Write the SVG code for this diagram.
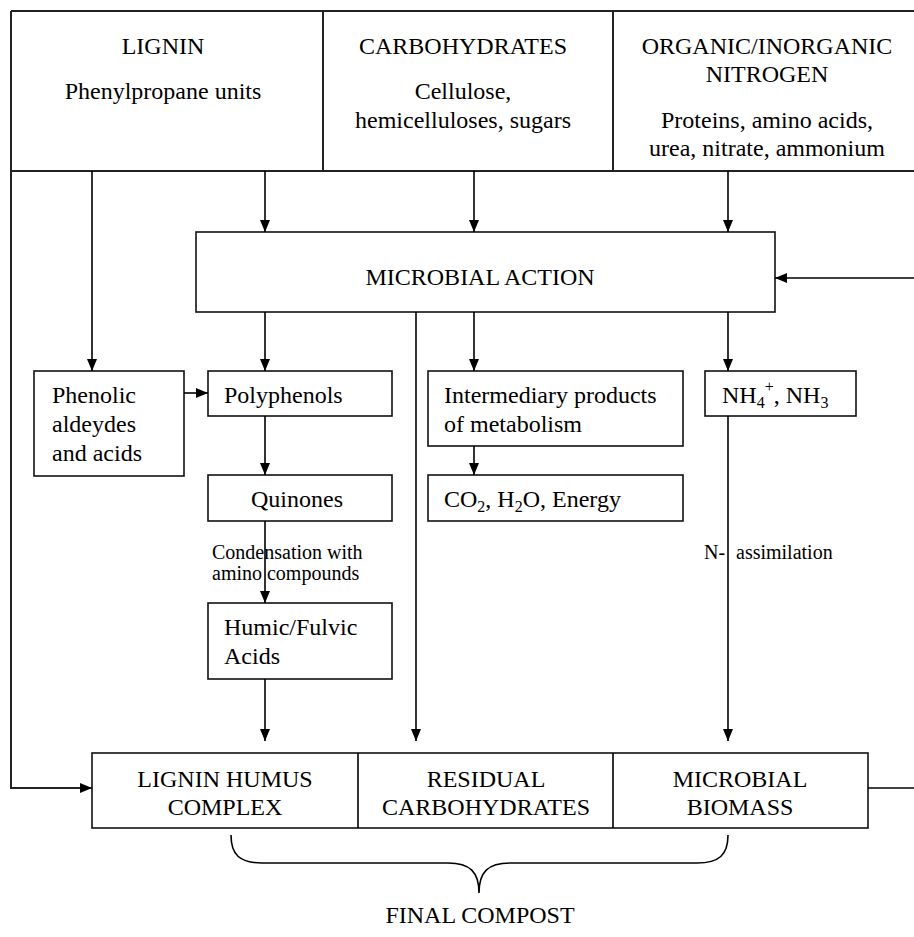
<svg xmlns="http://www.w3.org/2000/svg" width="914" height="937" viewBox="0 0 914 937">
<style>
text{font-family:"Liberation Serif","Times New Roman",serif;font-size:24px;fill:#000}
.c{text-anchor:middle}
.s{font-size:20px}
.sub{font-size:16px}
.box{fill:#fff;stroke:#111;stroke-width:1.6}
.ln{fill:none;stroke:#000;stroke-width:1.6}
.edge{fill:none;stroke:#222;stroke-width:2}
</style>
<defs>
<marker id="ah" viewBox="0 0 12 10" refX="12" refY="5" markerWidth="12" markerHeight="10" markerUnits="userSpaceOnUse" orient="auto">
<path d="M0,0 L12,5 L0,10 z" fill="#000"/>
</marker>
</defs>
<rect width="914" height="937" fill="#fff"/>

<g id="inputs">
<path class="edge" d="M11,11 H914 M11,171 H914 M323,11 V171 M613,11 V171"/>
<g id="lignin">
<text class="c" x="163" y="54">LIGNIN</text>
<text class="c" x="163" y="99">Phenylpropane units</text>
</g>
<g id="carbohydrates">
<text class="c" x="463" y="54">CARBOHYDRATES</text>
<text class="c" x="463" y="99">Cellulose,</text>
<text class="c" x="463" y="128">hemicelluloses, sugars</text>
</g>
<g id="nitrogen">
<text class="c" x="767" y="54">ORGANIC/INORGANIC</text>
<text class="c" x="767" y="82">NITROGEN</text>
<text class="c" x="767" y="128">Proteins, amino acids,</text>
<text class="c" x="767" y="156">urea, nitrate, ammonium</text>
</g>
</g>

<g id="microbial-action">
<rect class="box" x="196" y="232" width="579" height="80"/>
<text class="c" x="480" y="285">MICROBIAL ACTION</text>
</g>

<g id="phenolic">
<rect class="box" x="34" y="371" width="150" height="105"/>
<text x="52" y="403">Phenolic</text>
<text x="52" y="432">aldeydes</text>
<text x="52" y="461">and acids</text>
</g>

<g id="polyphenols">
<rect class="box" x="208" y="371" width="184" height="45"/>
<text x="224" y="403">Polyphenols</text>
</g>

<g id="quinones">
<rect class="box" x="208" y="475" width="184" height="46"/>
<text class="c" x="297" y="507">Quinones</text>
</g>

<g id="humic">
<rect class="box" x="208" y="603" width="184" height="76"/>
<text x="224" y="635">Humic/Fulvic</text>
<text x="224" y="664">Acids</text>
</g>

<g id="intermediary">
<rect class="box" x="428" y="371" width="255" height="75"/>
<text x="444" y="403">Intermediary products</text>
<text x="444" y="432">of metabolism</text>
</g>

<g id="co2">
<rect class="box" x="428" y="475" width="255" height="46"/>
<text x="444" y="507">CO<tspan class="sub" dy="5">2</tspan><tspan dy="-5">, H</tspan><tspan class="sub" dy="5">2</tspan><tspan dy="-5">O, Energy</tspan></text>
</g>

<g id="ammonium">
<rect class="box" x="705" y="371" width="151" height="45"/>
<text x="722" y="403">NH<tspan class="sub" dy="5">4</tspan><tspan class="sub" dy="-16">+</tspan><tspan dy="11">, NH</tspan><tspan class="sub" dy="5">3</tspan></text>
</g>

<g id="final-compost">
<rect class="box" x="92" y="753" width="776" height="75"/>
<path class="ln" d="M358,753 V828 M613,753 V828"/>
<g id="lignin-humus">
<text class="c" x="225" y="787">LIGNIN HUMUS</text>
<text class="c" x="225" y="815">COMPLEX</text>
</g>
<g id="residual-carbohydrates">
<text class="c" x="486" y="787">RESIDUAL</text>
<text class="c" x="486" y="815">CARBOHYDRATES</text>
</g>
<g id="microbial-biomass">
<text class="c" x="740" y="787">MICROBIAL</text>
<text class="c" x="740" y="815">BIOMASS</text>
</g>
<path class="ln" d="M231,835 C231,855 240,863 262,863 H448 C470,863 479,872 479,893 C479,872 488,863 510,863 H697 C719,863 728,855 728,835"/>
<text class="c" x="480" y="923">FINAL COMPOST</text>
</g>

<g id="connectors">
<path class="ln" d="M265,171 V232" marker-end="url(#ah)"/>
<path class="ln" d="M474,171 V232" marker-end="url(#ah)"/>
<path class="ln" d="M728,171 V232" marker-end="url(#ah)"/>
<path class="ln" d="M92,171 V371" marker-end="url(#ah)"/>
<path class="ln" d="M914,278 H775" stroke-width="2" marker-end="url(#ah)"/>
<path class="ln" d="M265,312 V371" marker-end="url(#ah)"/>
<path class="ln" d="M474,312 V371" marker-end="url(#ah)"/>
<path class="ln" d="M728,312 V371" marker-end="url(#ah)"/>
<path class="ln" d="M416,312 V741" marker-end="url(#ah)"/>
<path class="ln" d="M184,393 H208" marker-end="url(#ah)"/>
<path class="ln" d="M265,416 V475" marker-end="url(#ah)"/>
<path class="ln" d="M474,446 V475" marker-end="url(#ah)"/>
<path class="ln" d="M265,521 V603" marker-end="url(#ah)"/>
<path class="ln" d="M265,679 V741" marker-end="url(#ah)"/>
<path class="ln" d="M728,416 V741" marker-end="url(#ah)"/>
<path class="edge" d="M11,11 V788 H92" marker-end="url(#ah)"/>
<path class="ln" d="M868,788 H914"/>
<text class="s" x="212" y="559">Condensation with</text>
<text class="s" x="212" y="580">amino compounds</text>
<text class="s" x="704" y="559">N-<tspan x="736">assimilation</tspan></text>
</g>
</svg>
